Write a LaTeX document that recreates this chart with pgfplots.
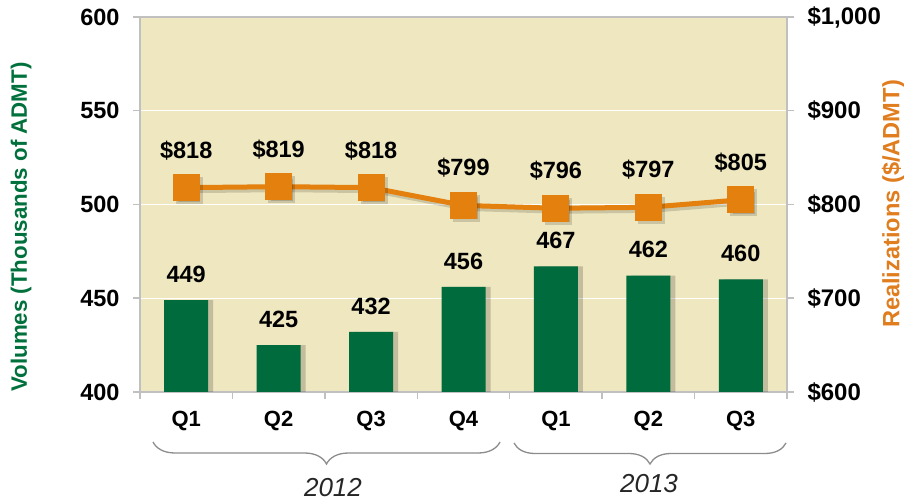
\documentclass[border=0pt]{standalone}
\usepackage{pgfplots}
\pgfplotsset{compat=1.18}
\usepackage{fontspec}
\setmainfont{Liberation Sans}
\usetikzlibrary{decorations.pathreplacing}
\definecolor{bg}{HTML}{EEE7C0}
\definecolor{bargreen}{HTML}{006B3C}
\definecolor{lblgreen}{HTML}{00703C}
\definecolor{orng}{HTML}{E3800E}
\definecolor{ttlorng}{HTML}{E07D1E}
\definecolor{axgray}{HTML}{C0C0C0}
\definecolor{bracegray}{HTML}{8C8C8C}
\begin{document}
\begin{tikzpicture}[x=1pt,y=1pt]
\useasboundingbox (0,0) rectangle (904,503);
\begin{axis}[
  at={(140pt,111pt)}, anchor=south west,
  scale only axis, width=647pt, height=375pt,
  xmin=-0.5, xmax=6.5, ymin=400, ymax=600,
  axis background/.style={fill=bg},
  axis line style={axgray, line width=1.5pt},
  ytick={400,450,500,550,600},
  yticklabels={400,450,500,550,600},
  ytick pos=left, xtick pos=bottom,
  y tick label style={font=\fontsize{23.5}{26}\selectfont\bfseries, xshift=-10pt},
  ytick style={axgray, line width=1.5pt},
  tick align=outside, major tick length=7pt, minor tick length=7pt,
  ymajorgrids, grid style={white, line width=1pt},
  xtick={0,...,6}, xticklabels={Q1,Q2,Q3,Q4,Q1,Q2,Q3},
  minor xtick={-0.5,0.5,...,6.5},
  major x tick style={draw=none},
  minor x tick style={axgray, line width=1.5pt},
  x tick label style={font=\fontsize{22}{24}\selectfont\bfseries, yshift=-9pt},
]
\addplot[ybar, bar width=44pt, bar shift=5pt, fill=black, opacity=0.18, draw=none, forget plot]
  coordinates {(0,449) (1,425) (2,432) (3,456) (4,467) (5,462) (6,460)};
\addplot[ybar, bar width=44pt, bar shift=0pt, fill=bargreen, draw=none,
  point meta=explicit symbolic, nodes near coords,
  every node near coord/.append style={font=\fontsize{23.5}{26}\selectfont\bfseries, text=black, yshift=14pt}]
  coordinates {(0,449)[449] (1,425)[425] (2,432)[432] (3,456)[456] (4,467)[467] (5,462)[462] (6,460)[460]};
\end{axis}
\begin{axis}[
  at={(140pt,111pt)}, anchor=south west,
  scale only axis, width=647pt, height=375pt,
  xmin=-0.5, xmax=6.5, ymin=600, ymax=1000,
  hide x axis, axis y line*=right,
  axis line style={axgray, line width=1.5pt},
  ytick={600,700,800,900,1000},
  yticklabels={\$600,\$700,\$800,\$900,{\$1,000}},
  y tick label style={font=\fontsize{24}{26}\selectfont\bfseries, xshift=10pt},
  ytick style={axgray, line width=1.5pt},
  tick align=outside, major tick length=7pt,
]
\addplot[black, opacity=0.15, line width=5pt, mark=square*, mark size=11pt,
  mark options={fill=black, draw=none}, forget plot, shift={(3pt,-3pt)}]
  coordinates {(0,818) (1,819) (2,818) (3,799) (4,796) (5,797) (6,805)};
\addplot[orng, line width=5pt, mark=square*, mark size=11pt,
  mark options={fill=orng, draw=none},
  point meta=explicit symbolic, nodes near coords={\$\pgfplotspointmeta},
  every node near coord/.append style={font=\fontsize{23.5}{26}\selectfont\bfseries, text=black, yshift=22pt}]
  coordinates {(0,818)[818] (1,819)[819] (2,818)[818] (3,799)[799] (4,796)[796] (5,797)[797] (6,805)[805]};
\end{axis}
\node[rotate=90, text=lblgreen, font=\fontsize{22.3}{24}\selectfont\bfseries] at (21,276) {Volumes (Thousands of ADMT)};
\node[rotate=90, text=ttlorng, font=\fontsize{23.6}{26}\selectfont\bfseries] at (893,299) {Realizations (\$/ADMT)};
\draw[bracegray, line width=1.3pt, decorate, decoration={brace, mirror, amplitude=22pt}] (153,61) -- (500,61);
\draw[bracegray, line width=1.3pt, decorate, decoration={brace, mirror, amplitude=21pt}] (514,60) -- (786,60);
\node[font=\fontsize{26}{28}\selectfont\itshape, text=black!85] at (333,15) {2012};
\node[font=\fontsize{26}{28}\selectfont\itshape, text=black!85] at (649,19) {2013};
\end{tikzpicture}
\end{document}
